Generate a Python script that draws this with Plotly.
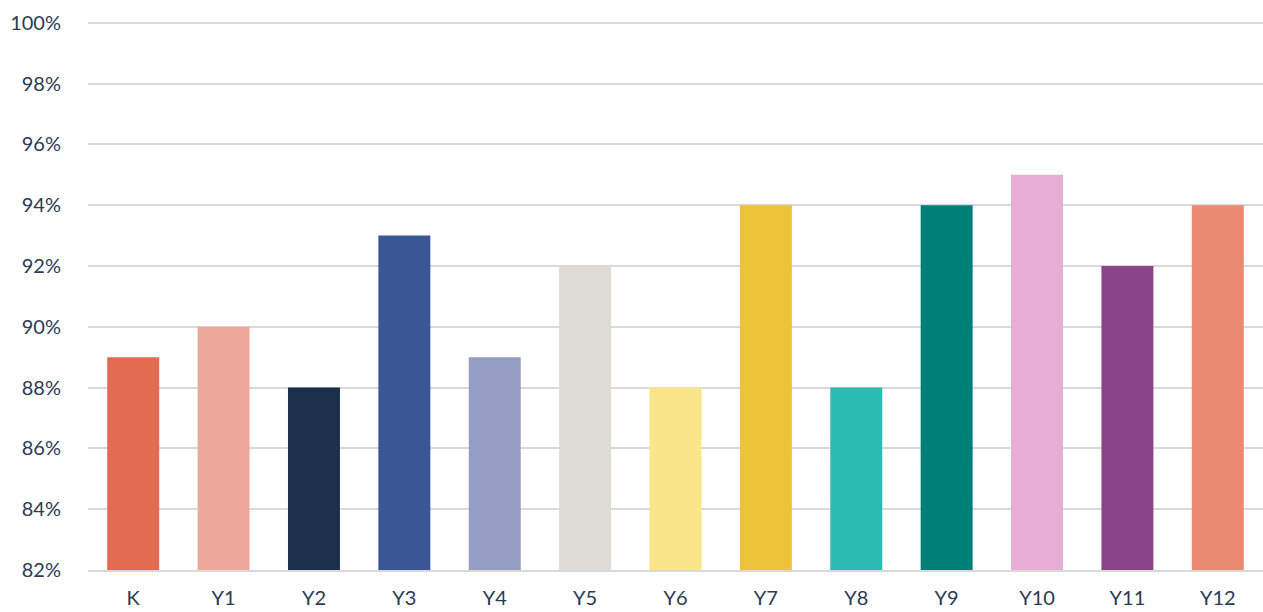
import plotly.graph_objects as go

categories = ["K", "Y1", "Y2", "Y3", "Y4", "Y5", "Y6", "Y7", "Y8", "Y9", "Y10", "Y11", "Y12"]
values = [89, 90, 88, 93, 89, 92, 88, 94, 88, 94, 95, 92, 94]
colors = ["#E36B52", "#EEA89B", "#1C2F4C", "#3A5795", "#949DC4", "#DCDBD6", "#FAE588",
          "#EDC438", "#2ABBB2", "#007E78", "#E6ADD5", "#8C4489", "#E98A72"]
y_ticks = list(range(82, 101, 2))
y_labels = [f"{v}%" for v in y_ticks]

fig = go.Figure(go.Bar(x=categories, y=values, marker=dict(color=colors, line=dict(width=0))))
fig.update_layout(
    width=1263, height=612,
    margin=dict(l=88, r=0, t=21, b=42),
    paper_bgcolor="white", plot_bgcolor="white",
    bargap=0.425,
    showlegend=False,
    font=dict(family="Lato", size=20, color="#2B3A55"),
)
fig.update_yaxes(range=[82, 100.06], tickvals=y_ticks, ticktext=y_labels,
                 showgrid=True, gridcolor="#D9D9D9", gridwidth=2,
                 zeroline=False, showline=False, automargin=False,
                 ticks="outside", ticklen=22, tickcolor="rgba(0,0,0,0)")
fig.update_xaxes(showline=True, linecolor="#D9D9D9", linewidth=2, automargin=False,
                 ticks="outside", ticklen=9, tickcolor="rgba(0,0,0,0)")
fig.write_html("out.html")
